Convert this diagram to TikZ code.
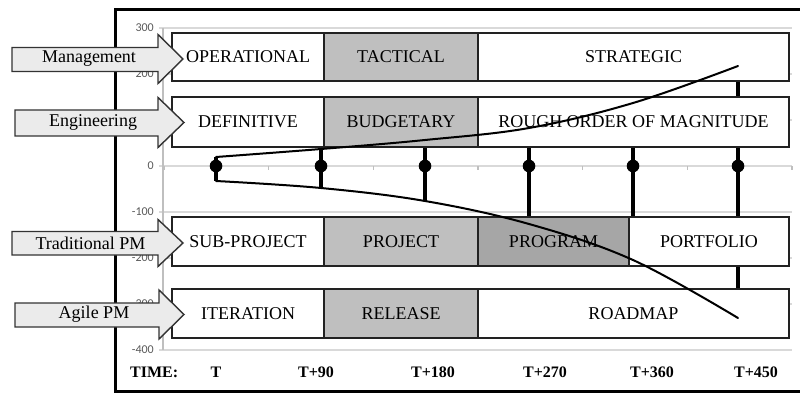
\documentclass[tikz,border=0pt]{standalone}
\usepackage{fontspec}
\setmainfont{Liberation Serif}
\newfontfamily\axisfont{Carlito}
\definecolor{boxline}{HTML}{222222}
\definecolor{lightfill}{HTML}{BFBFBF}
\definecolor{darkfill}{HTML}{A6A6A6}
\definecolor{arrowfill}{HTML}{EBEBEB}
\definecolor{arrowline}{HTML}{333333}
\definecolor{gridc}{HTML}{D9D9D9}
\definecolor{axisc}{HTML}{BFBFBF}
\definecolor{axislab}{HTML}{595959}
\tikzset{
  phase/.style={draw=boxline, line width=2.2pt, inner sep=0pt, fill=white,
    font=\fontsize{18}{20}\selectfont},
  shade1/.style={phase, fill=lightfill},
  shade2/.style={phase, fill=darkfill},
  arrowshape/.style={draw=arrowline, line width=1.4pt, fill=arrowfill, line join=miter},
  arrowlabel/.style={inner sep=0pt, font=\fontsize{18}{20}\selectfont},
  gridline/.style={draw=gridc, line width=1.3pt},
  axisline/.style={draw=axisc, line width=1.3pt},
  ylab/.style={anchor=east, inner sep=0pt, text=axislab, font=\axisfont\fontsize{12}{14}\selectfont},
  timelab/.style={inner sep=0pt, font=\bfseries\fontsize{16}{18}\selectfont},
  errbar/.style={draw=black, line width=3.5pt},
  datadot/.style={circle, fill=black, inner sep=0pt, minimum size=12.6pt},
  curve/.style={draw=black, line width=2pt, line cap=round}
}
\begin{document}
\begin{tikzpicture}[x=1pt,y=-1pt]
\useasboundingbox (0,0) rectangle (800,393);
\fill[white] (0,0) rectangle (800,393);
% frame
\draw[line width=2.5pt] (800,9.5) -- (115.5,9.5) -- (115.5,391.5) -- (800,391.5);
% grid
\foreach \v/\yy in {300/28,200/74,100/120,0/166,-100/212,-200/258,-300/304,-400/350}{
  \draw[gridline] (159,\yy) -- (792,\yy);
  \node[ylab] at (154,\yy) {\v};
}
\draw[axisline] (163,28) -- (163,350);
\foreach \k in {0,...,6}{
  \draw[axisline] ({164+104.67*\k},166) -- ({164+104.67*\k},170);
}
% data coordinates
\coordinate (u0) at (216,157); \coordinate (l0) at (216,181);
\coordinate (u1) at (321,149); \coordinate (l1) at (321,188);
\coordinate (u2) at (425,140); \coordinate (l2) at (425,201);
\coordinate (u3) at (529,128); \coordinate (l3) at (529,224);
\coordinate (u4) at (633,103); \coordinate (l4) at (633,260);
\coordinate (u5) at (738,66);  \coordinate (l5) at (738,318);
\foreach \i in {0,...,5}{ \draw[errbar] (u\i) -- (l\i); }
\node[datadot] (p0) at (216,166) {};
\node[datadot] (p1) at (321,166) {};
\node[datadot] (p2) at (425,166) {};
\node[datadot] (p3) at (529,166) {};
\node[datadot] (p4) at (633,166) {};
\node[datadot] (p5) at (738,166) {};
% rows of boxes
\node[phase,  minimum width=152pt, minimum height=48pt] (oper) at (248,57) {OPERATIONAL};
\node[shade1, minimum width=154pt, minimum height=48pt] (tact) at (401,57) {TACTICAL};
\node[phase,  minimum width=311pt, minimum height=48pt] (strat) at (633.5,57) {STRATEGIC};
\node[phase,  minimum width=152pt, minimum height=50pt] (defin) at (248,122) {DEFINITIVE};
\node[shade1, minimum width=154pt, minimum height=50pt] (budg) at (401,122) {BUDGETARY};
\node[phase,  minimum width=311pt, minimum height=50pt] (rough) at (633.5,122) {ROUGH ORDER OF MAGNITUDE};
\node[phase,  minimum width=152pt, minimum height=49pt] (subp) at (248,241.5) {SUB-PROJECT};
\node[shade1, minimum width=154pt, minimum height=49pt] (proj) at (401,241.5) {PROJECT};
\node[shade2, minimum width=151pt, minimum height=49pt] (prog) at (553.5,241.5) {PROGRAM};
\node[phase,  minimum width=160pt, minimum height=49pt] (portf) at (709,241.5) {PORTFOLIO};
\node[phase,  minimum width=152pt, minimum height=49pt] (iter) at (248,313.5) {ITERATION};
\node[shade1, minimum width=154pt, minimum height=49pt] (rel) at (401,313.5) {RELEASE};
\node[phase,  minimum width=311pt, minimum height=49pt] (road) at (633.5,313.5) {ROADMAP};
% block arrows
\draw[arrowshape] (12,47.5) -- (158,47.5) -- (158,34.5) -- (183,59) -- (158,83.5) -- (158,71.5) -- (12,71.5) -- cycle;
\node[arrowlabel] (lmgmt) at (89,59) {Management};
\draw[arrowshape] (15,110) -- (158,110) -- (158,97.5) -- (184,122.5) -- (158,147.5) -- (158,136) -- (15,136) -- cycle;
\node[arrowlabel] (leng) at (93,122.5) {Engineering};
\draw[arrowshape] (12,231.5) -- (158,231.5) -- (158,219.5) -- (183,243) -- (158,266.5) -- (158,255) -- (12,255) -- cycle;
\node[arrowlabel] (ltrad) at (90.5,243) {Traditional PM};
\draw[arrowshape] (15,303) -- (159,303) -- (159,290) -- (184,314.5) -- (159,339) -- (159,327) -- (15,327) -- cycle;
\node[arrowlabel] (lagile) at (94,314.5) {Agile PM};
% curves
\draw[curve] plot[smooth, tension=0.6] coordinates {(u0) (u1) (u2) (u3) (u4) (u5)};
\draw[curve] plot[smooth, tension=0.6] coordinates {(l0) (l1) (l2) (l3) (l4) (l5)};
% time axis labels
\node[timelab, anchor=west] (ltime) at (130,372) {TIME:};
\node[timelab] (t0) at (216,372) {T};
\node[timelab] (t1) at (316,372) {T+90};
\node[timelab] (t2) at (433,372) {T+180};
\node[timelab] (t3) at (545,372) {T+270};
\node[timelab] (t4) at (652,372) {T+360};
\node[timelab] (t5) at (756,372) {T+450};
\end{tikzpicture}
\end{document}
